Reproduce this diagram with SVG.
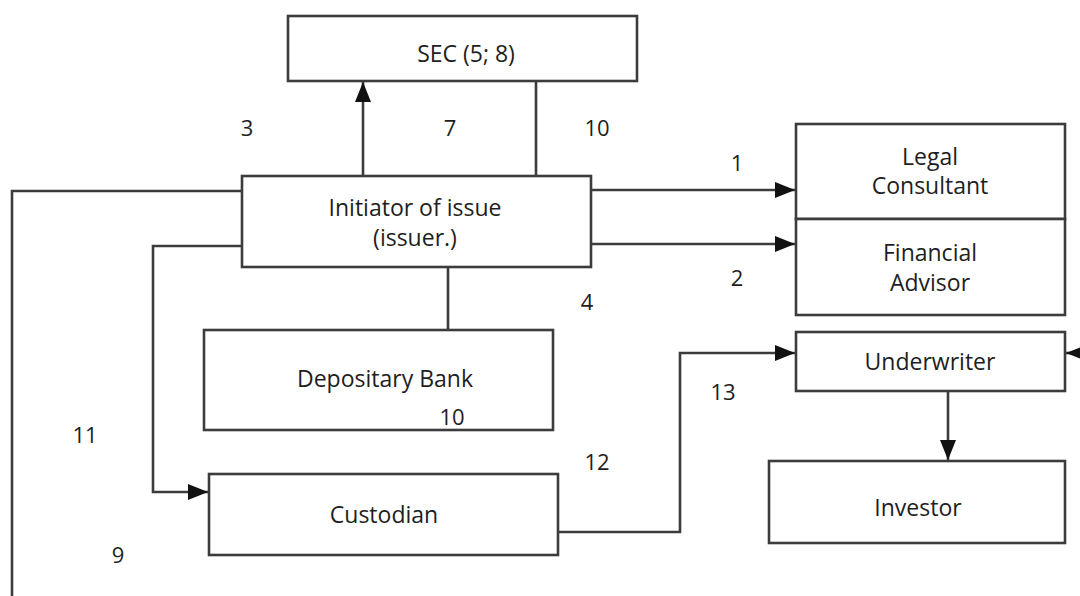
<svg xmlns="http://www.w3.org/2000/svg" width="1080" height="596" viewBox="0 0 1080 596">
<style>
.box{fill:#fff;stroke:#3c3c3c;stroke-width:2.6}
.lbl{font-family:"Open Sans","Noto Sans","Liberation Sans",sans-serif;font-size:23px;fill:#1e1e1e;text-anchor:middle}
.num{font-family:"Open Sans","Noto Sans","Liberation Sans",sans-serif;font-size:22px;fill:#1e1e1e;text-anchor:middle}
.ln{fill:none;stroke:#3c3c3c;stroke-width:2.6}
</style>
<defs>
<marker id="ah" markerUnits="userSpaceOnUse" markerWidth="20" markerHeight="16" refX="20" refY="8" orient="auto">
<path d="M0,0 L20,8 L0,16 Z" fill="#111"/>
</marker>
</defs>
<rect width="1080" height="596" fill="#fff"/>
<g id="connectors">
<path class="ln" d="M363,176 V82" marker-end="url(#ah)"/>
<path class="ln" d="M536,82 V176"/>
<path class="ln" d="M591,190 H795" marker-end="url(#ah)"/>
<path class="ln" d="M591,244 H795" marker-end="url(#ah)"/>
<path class="ln" d="M448,267 V330"/>
<path class="ln" d="M242,191 H12 V596"/>
<path class="ln" d="M242,246 H153 V492 H208" marker-end="url(#ah)"/>
<path class="ln" d="M558,532 H680 V353 H795" marker-end="url(#ah)"/>
<path class="ln" d="M1090,353 H1066" marker-end="url(#ah)"/>
<path class="ln" d="M948,391 V460" marker-end="url(#ah)"/>
</g>
<g id="sec"><rect class="box" x="288" y="16" width="349" height="65"/><text class="lbl" x="466" y="62">SEC (5; 8)</text></g>
<g id="initiator"><rect class="box" x="242" y="176" width="349" height="91"/><text class="lbl" x="415" y="216">Initiator of issue</text><text class="lbl" x="415" y="246">(issuer.)</text></g>
<g id="legal"><rect class="box" x="796" y="124" width="269" height="95"/><text class="lbl" x="930" y="165">Legal</text><text class="lbl" x="930" y="194">Consultant</text></g>
<g id="financial"><rect class="box" x="796" y="219" width="269" height="96"/><text class="lbl" x="930" y="261">Financial</text><text class="lbl" x="930" y="291">Advisor</text></g>
<g id="depositary"><rect class="box" x="204" y="330" width="349" height="100"/><text class="lbl" x="385" y="387">Depositary Bank</text></g>
<g id="custodian"><rect class="box" x="209" y="474" width="349" height="81"/><text class="lbl" x="384" y="523">Custodian</text></g>
<g id="underwriter"><rect class="box" x="796" y="332" width="269" height="59"/><text class="lbl" x="930" y="370">Underwriter</text></g>
<g id="investor"><rect class="box" x="769" y="461" width="296" height="82"/><text class="lbl" x="918" y="516">Investor</text></g>
<g id="labels">
<text class="num" x="247" y="136">3</text>
<text class="num" x="450" y="136">7</text>
<text class="num" x="597" y="136">10</text>
<text class="num" x="737" y="171">1</text>
<text class="num" x="737" y="286">2</text>
<text class="num" x="587" y="310">4</text>
<text class="num" x="452" y="425">10</text>
<text class="num" x="85" y="443">11</text>
<text class="num" x="597" y="470">12</text>
<text class="num" x="723" y="400">13</text>
<text class="num" x="118" y="563">9</text>
</g>
</svg>
